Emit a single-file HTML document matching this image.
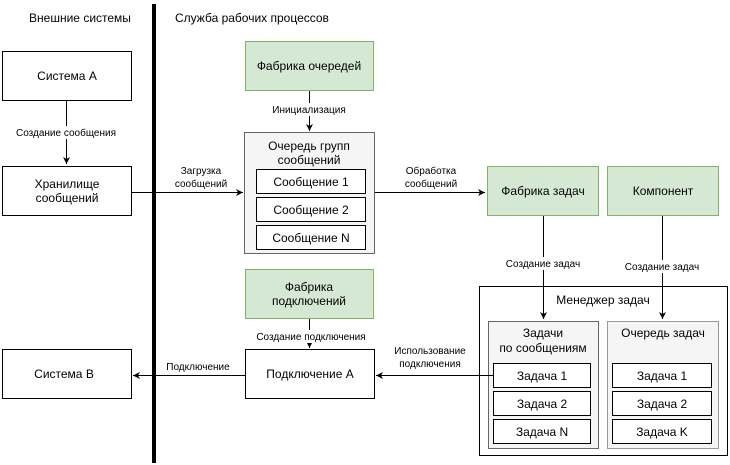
<!DOCTYPE html>
<html><head><meta charset="utf-8"><style>
html,body{margin:0;padding:0;background:#fff;}
svg{display:block;font-family:"Liberation Sans",Helvetica,Arial,sans-serif;}
.b{font-size:12px;fill:#000;text-anchor:middle;}
.l{font-size:10px;fill:#000;text-anchor:middle;}
.g{fill:#d5e8d4;stroke:#82b366;}
.w{fill:#fff;stroke:#000;}
.c{fill:#f5f5f5;stroke:#666;}
.ln{stroke:#000;fill:none;}
</style></head><body>
<svg width="730" height="465" viewBox="0 0 730 465">
<defs><marker id="a" markerWidth="8" markerHeight="8" refX="7" refY="4" orient="auto" markerUnits="userSpaceOnUse"><path d="M0,0.5 L7,4 L0,7.5 L2,4 Z" fill="#000"/></marker></defs>
<text x="80" y="22" class="b">Внешние системы</text>
<rect x="152" y="4" width="4" height="459" fill="#000"/>
<text x="175" y="22" style="font-size:12px">Служба рабочих процессов</text>

<rect x="2.5" y="51.5" width="129" height="49" class="w"/><text x="67" y="80" class="b">Система А</text>
<line x1="66.5" y1="101" x2="66.5" y2="164" class="ln" marker-end="url(#a)"/>
<rect x="20" y="126" width="95" height="13" fill="#fff"/><text x="66" y="136" class="l">Создание сообщения</text>
<rect x="2.5" y="166.5" width="129" height="49" class="w"/><text x="67" y="188" class="b">Хранилище</text><text x="67" y="202" class="b">сообщений</text>

<line x1="132" y1="192.5" x2="243" y2="192.5" class="ln" marker-end="url(#a)"/>
<text x="201" y="174" class="l">Загрузка</text><text x="201" y="187" class="l">сообщений</text>

<rect x="245.5" y="41.5" width="128" height="49" class="g"/><text x="309" y="70" class="b">Фабрика очередей</text>
<line x1="309.5" y1="91" x2="309.5" y2="131" class="ln" marker-end="url(#a)"/>
<rect x="265" y="103" width="90" height="13" fill="#fff"/><text x="309" y="113" class="l">Инициализация</text>

<rect x="244.5" y="132.5" width="130" height="121" class="c"/>
<text x="309" y="150" class="b" fill="#333">Очередь групп</text><text x="309" y="164" class="b">сообщений</text>
<rect x="256.5" y="169.5" width="109" height="24" class="w"/><text x="311" y="186" class="b">Сообщение 1</text>
<rect x="256.5" y="197.5" width="109" height="24" class="w"/><text x="311" y="214" class="b">Сообщение 2</text>
<rect x="256.5" y="225.5" width="109" height="24" class="w"/><text x="311" y="242" class="b">Сообщение N</text>

<line x1="375" y1="192.5" x2="485" y2="192.5" class="ln" marker-end="url(#a)"/>
<text x="431" y="174" class="l">Обработка</text><text x="431" y="187" class="l">сообщений</text>

<rect x="487.5" y="166.5" width="111" height="49" class="g"/><text x="543" y="195" class="b">Фабрика задач</text>
<rect x="607.5" y="166.5" width="111" height="49" class="g"/><text x="663" y="195" class="b">Компонент</text>

<rect x="479.5" y="286.5" width="248" height="169" class="w"/>
<text x="603" y="304" class="b">Менеджер задач</text>
<line x1="543.5" y1="216" x2="543.5" y2="319" class="ln" marker-end="url(#a)"/>
<line x1="662.5" y1="216" x2="662.5" y2="319" class="ln" marker-end="url(#a)"/>
<rect x="498" y="257" width="90" height="13" fill="#fff"/><text x="543" y="267" class="l">Создание задач</text>
<rect x="617" y="260" width="90" height="13" fill="#fff"/><text x="662" y="270" class="l">Создание задач</text>

<rect x="488.5" y="321.5" width="110" height="127" class="c"/>
<text x="543" y="337" class="b">Задачи</text><text x="543" y="352" class="b">по сообщениям</text>
<rect x="493.5" y="363.5" width="97" height="24" class="w"/><text x="542" y="380" class="b">Задача 1</text>
<rect x="493.5" y="391.5" width="97" height="24" class="w"/><text x="542" y="408" class="b">Задача 2</text>
<rect x="493.5" y="419.5" width="97" height="24" class="w"/><text x="542" y="436" class="b">Задача N</text>

<rect x="607.5" y="321.5" width="111" height="127" class="c" style="stroke:#999"/>
<text x="663" y="337" class="b">Очередь задач</text>
<rect x="612.5" y="363.5" width="99" height="24" class="w"/><text x="662" y="380" class="b">Задача 1</text>
<rect x="612.5" y="391.5" width="99" height="24" class="w"/><text x="662" y="408" class="b">Задача 2</text>
<rect x="612.5" y="419.5" width="99" height="24" class="w"/><text x="662" y="436" class="b">Задача K</text>

<line x1="493" y1="375.5" x2="376" y2="375.5" class="ln" marker-end="url(#a)"/>
<text x="430" y="354" class="l">Использование</text><text x="430" y="367" class="l">подключения</text>

<rect x="245.5" y="269.5" width="128" height="49" class="g"/><text x="309" y="291" class="b">Фабрика</text><text x="309" y="305" class="b">подключений</text>
<line x1="309.5" y1="319" x2="309.5" y2="348" class="ln" marker-end="url(#a)"/>
<rect x="250" y="330" width="120" height="13" fill="#fff"/><text x="311" y="340" class="l">Создание подключения</text>
<rect x="245.5" y="349.5" width="129" height="49" class="w"/><text x="310" y="378" class="b">Подключение А</text>

<line x1="245" y1="375.5" x2="133" y2="375.5" class="ln" marker-end="url(#a)"/>
<rect x="160" y="360" width="78" height="13" fill="#fff"/><text x="198" y="370" class="l">Подключение</text>
<rect x="2.5" y="349.5" width="129" height="49" class="w"/><text x="64" y="378" class="b">Система В</text>
</svg>
</body></html>
